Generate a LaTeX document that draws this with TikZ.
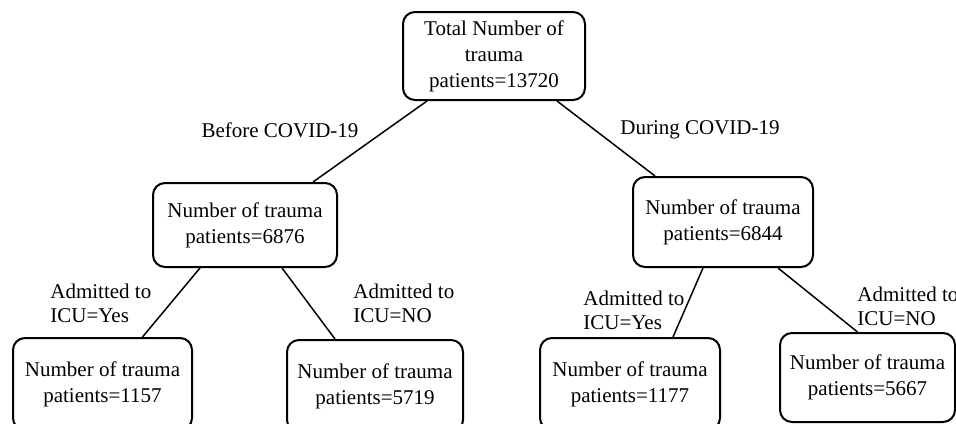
\documentclass[tikz,border=0pt]{standalone}
\usepackage{fontspec}
\setmainfont{Liberation Serif}
\usetikzlibrary{calc}
\usetikzlibrary{positioning}
\tikzset{
    mybox/.style = {rectangle, rounded corners=6pt, line width=1pt, draw=black, align=center, fill=white, inner sep=2pt, font=\fontsize{10.5}{13}\selectfont},
    mylabel/.style = {align=left, inner sep=0pt, font=\fontsize{10.5}{12}\selectfont},
    edgen/.style = {line width=0.75pt, black},
}
\begin{document}
\begin{tikzpicture}[x=0.5pt,y=-0.5pt]
\useasboundingbox (0,0) rectangle (956,423);
\node[mybox, minimum width=91pt, minimum height=44pt] at (494, 56) (t0) {Total Number of\\trauma\\patients=13720};
\node[mybox, minimum width=92pt, minimum height=42pt] at (245, 225) (b1) {Number of trauma\\patients=6876};
\node[mybox, minimum width=90pt, minimum height=45pt] at (723, 222) (b2) {Number of trauma\\patients=6844};
\node[mybox, minimum width=89.5pt, minimum height=46pt] at (102.5, 384) (c1) {Number of trauma\\patients=1157};
\node[mybox, minimum width=88pt, minimum height=46pt] at (375, 386) (c2) {Number of trauma\\patients=5719};
\node[mybox, minimum width=90pt, minimum height=46pt] at (630, 384) (c3) {Number of trauma\\patients=1177};
\node[mybox, minimum width=87.5pt, minimum height=44.5pt] at (867.5, 377.5) (c4) {Number of trauma\\patients=5667};
%
\node[mylabel] at (280, 130) (l1) {Before COVID-19};
\node[mylabel] at (700, 130) (l2) {During COVID-19};
\node[mylabel, anchor=west] at (50, 303) (l3) {Admitted to\\ICU=Yes};
\node[mylabel, anchor=west] at (353, 303) (l4) {Admitted to\\ICU=NO};
\node[mylabel, anchor=west] at (583, 310) (l5) {Admitted to\\ICU=Yes};
\node[mylabel, anchor=west] at (857, 306) (l6) {Admitted to\\ICU=NO};
%
\draw[edgen] ($(t0.south)+(-67,0)$) -- ($(b1.north)+(68,0)$);
\draw[edgen] ($(t0.south)+(63,0)$) -- ($(b2.north)+(-68,0)$);
\draw[edgen] ($(b1.south)+(-45,0)$) -- ($(c1.north)+(40,0)$);
\draw[edgen] ($(b1.south)+(37,0)$) -- ($(c2.north)+(-40,0)$);
\draw[edgen] ($(b2.south)+(-20,0)$) -- ($(c3.north)+(43,0)$);
\draw[edgen] ($(b2.south)+(55,0)$) -- ($(c4.north)+(-10,0)$);

\end{tikzpicture}
\end{document}
